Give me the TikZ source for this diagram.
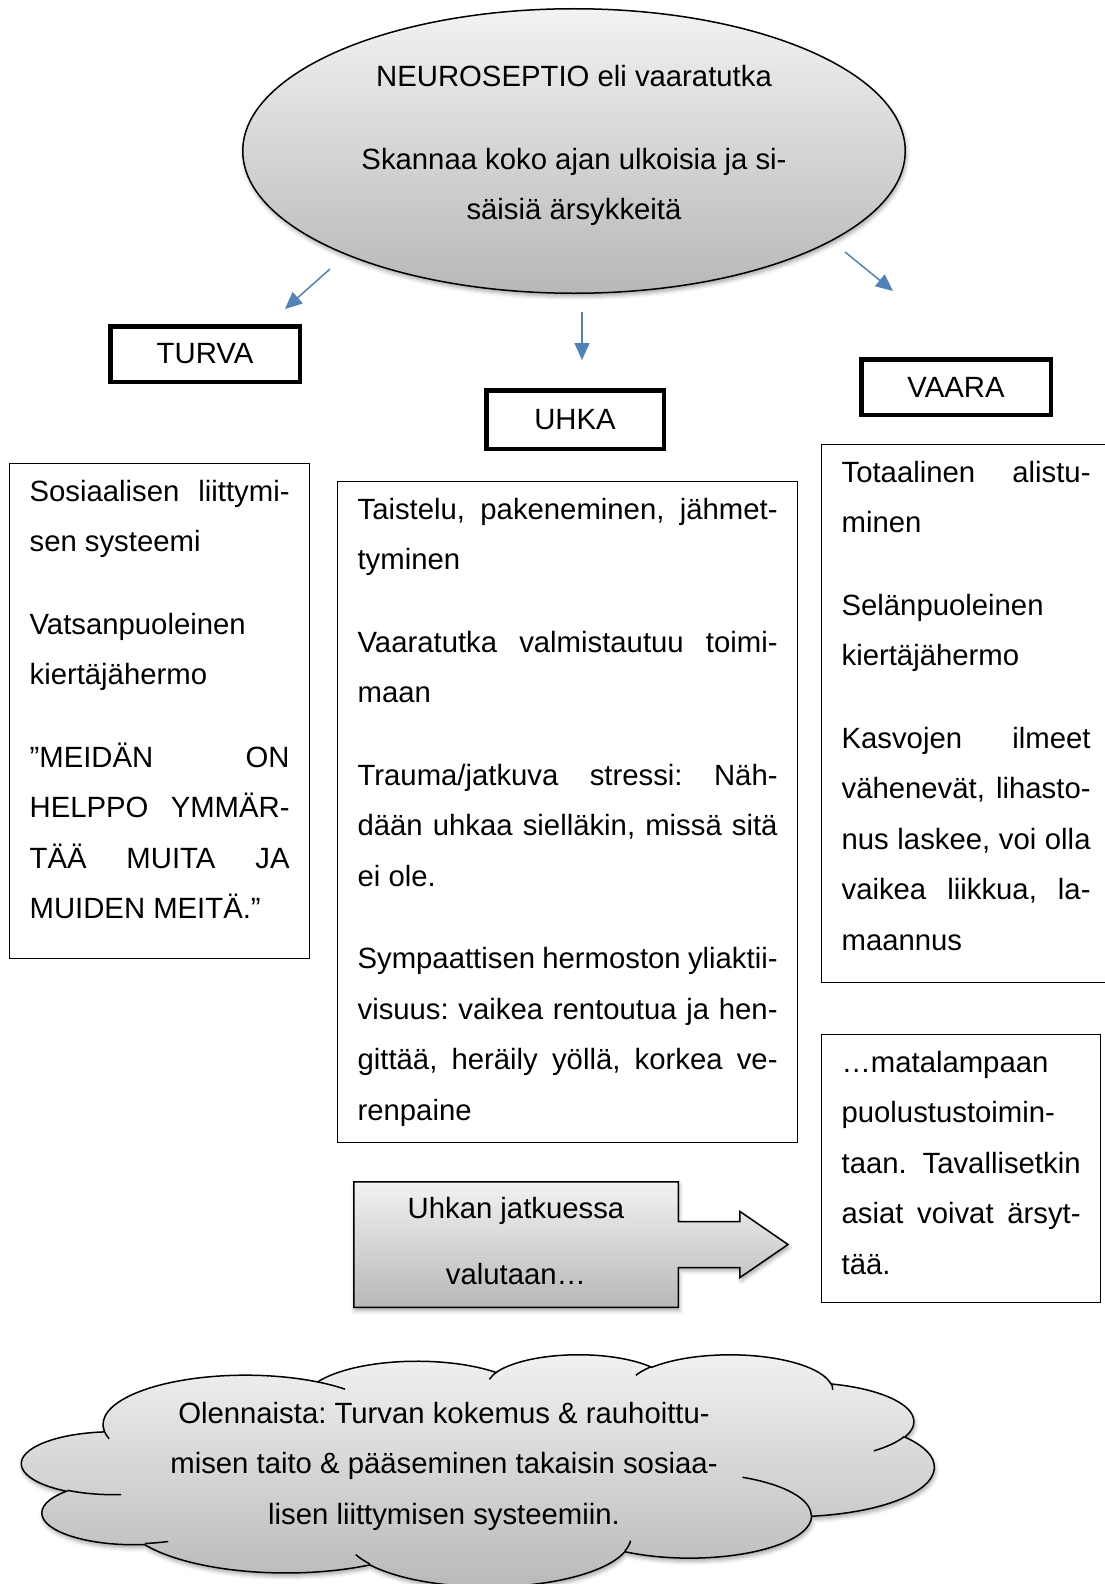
\documentclass[tikz,border=0pt]{standalone}
\usepackage{fontspec}
\setmainfont{Liberation Sans}
\usetikzlibrary{arrows.meta,shapes.geometric,shapes.arrows,shadows.blur}

\definecolor{nuolensini}{HTML}{4F81BD}
\frenchspacing
\newcommand{\perusfontti}{\fontsize{14.65pt}{25.25pt}\selectfont}
% tekstilaatikon sisalto: korkeus, leveys, teksti
\newcommand{\laatikkoteksti}[3]{\parbox[t][#1][t]{#2}{\setlength{\parskip}{16pt}\tolerance=9999\hbadness=10000\rule{0pt}{18.75pt}#3}}
% pilven kaari: x-sade, y-sade, alkukulma, kaaren kulma
\newcommand{\pilvikaari}[4]{arc[x radius=#1, y radius=#2, start angle={atan2((#1)*sin(#3),(#2)*cos(#3))}, delta angle={mod(atan2((#1)*sin((#3)+(#4)),(#2)*cos((#3)+(#4)))-atan2((#1)*sin(#3),(#2)*cos(#3))+720,360)}]}

\begin{document}
\begin{tikzpicture}[x=0.5pt, y=-0.5pt,
    otsikko/.style={draw, line width=2.25pt, inner sep=0pt, minimum width=94.75pt, minimum height=27.75pt, font=\perusfontti},
    laatikko/.style={draw, line width=0.6pt, anchor=north west, inner xsep=10pt, inner ysep=0pt, font=\perusfontti},
    nuoli/.style={draw=nuolensini, line width=0.75pt, -{Triangle[length=8.5pt, width=7.5pt]}},
    varjo/.style={blur shadow={shadow xshift=0.6pt, shadow yshift=-1.6pt, shadow blur radius=2pt, shadow opacity=35}},
    harmaa/.style={top color=black!5, bottom color=black!28}]
\useasboundingbox (0,0) rectangle (1104,1584);

\node[ellipse, draw, line width=0.75pt, harmaa, varjo, minimum width=331.25pt, minimum height=142.25pt, align=center, font=\perusfontti] (neuro) at (574,151)
    {\rule{0pt}{11pt}NEUROSEPTIO eli vaaratutka\\[16pt]Skannaa koko ajan ulkoisia ja si-\\säisiä ärsykkeitä\rule[-8.75pt]{0pt}{8.75pt}};

\node[otsikko] (turva) at (205,354) {TURVA};
\node[otsikko, minimum width=88.75pt, minimum height=29.25pt] (uhka) at (575,419.5) {UHKA};
\node[otsikko] (vaara) at (956,387) {VAARA};

% nuolet
\coordinate (turvaA) at (330,269);
\coordinate (turvaB) at (285,309);
\coordinate (uhkaA) at (582,312);
\coordinate (uhkaB) at (582,360);
\coordinate (vaaraA) at (845,252);
\coordinate (vaaraB) at (893,291);
\draw[nuoli] (turvaA) -- (turvaB);
\draw[nuoli] (uhkaA) -- (uhkaB);
\draw[nuoli] (vaaraA) -- (vaaraB);

\node[laatikko] (turvateksti) at (9,463) {\laatikkoteksti{247.5pt}{130pt}{Sosiaalisen liittymi-\linebreak sen systeemi\par Vatsanpuoleinen\newline kiertäjähermo\par ”MEIDÄN ON\linebreak HELPPO YMMÄR-\linebreak TÄÄ MUITA JA\linebreak MUIDEN MEITÄ.”}};

\node[laatikko] (uhkateksti) at (337,481) {\laatikkoteksti{330.5pt}{210pt}{Taistelu, pakeneminen, jähmet-\linebreak tyminen\par Vaaratutka valmistautuu toimi-\linebreak maan\par Trauma/jatkuva stressi: Näh-\linebreak dään uhkaa sielläkin, missä sitä\linebreak ei ole.\par Sympaattisen hermoston yliaktii-\linebreak visuus: vaikea rentoutua ja hen-\linebreak gittää, heräily yöllä, korkea ve-\linebreak renpaine}};

\node[laatikko] (vaarateksti) at (821,444) {\laatikkoteksti{269pt}{124.5pt}{Totaalinen alistu-\linebreak minen\par Selänpuoleinen\newline kiertäjähermo\par Kasvojen ilmeet\linebreak vähenevät, lihasto-\linebreak nus laskee, voi olla\linebreak vaikea liikkua, la-\linebreak maannus}};

\node[laatikko] (matala) at (821,1034) {\laatikkoteksti{134pt}{119.5pt}{…matalampaan\newline puolustustoimin-\newline taan. Tavallisetkin\linebreak asiat voivat ärsyt-\linebreak tää.}};

\node[arrow box, draw, line width=0.75pt, harmaa, varjo, inner sep=0pt, minimum width=162.25pt, minimum height=62.75pt,
    arrow box arrows={east:54.5pt from border}, arrow box shaft width=23pt, arrow box head extend=5pt, arrow box tip angle=69,
    align=center, font=\perusfontti] (jatkuessa) at (516,1244.5)
    {Uhkan jatkuessa\\[7.75pt]valutaan…\rule[-3.7pt]{0pt}{0pt}};

% pilvi
\begin{scope}[shift={(22,1354)}, x=1.05556pt, y=-0.268519pt]
\path[draw, line width=0.75pt, harmaa, varjo] (39,143.7)
    \pilvikaari{67.53}{91.90}{-190.4875}{123.7805}
    \pilvikaari{53.33}{72.67}{-144.1024}{89.9452}
    \pilvikaari{43.65}{59.45}{-145.8079}{99.7230}
    \pilvikaari{48.57}{65.95}{-130.9861}{117.2417}
    \pilvikaari{53.33}{72.73}{-78.7089}{109.0269}
    \pilvikaari{67.75}{92.20}{-46.2673}{130.2690}
    \pilvikaari{57.85}{78.67}{0.6250}{114.0333}
    \pilvikaari{67.52}{92.15}{22.4516}{115.1726}
    \pilvikaari{77.20}{105.43}{66.2426}{75.7110}
    \pilvikaari{43.60}{59.18}{-274.9421}{146.7356}
    \pilvikaari{43.45}{59.45}{-246.8285}{152.5189} -- cycle;
\draw[line width=0.75pt]
    (46.93,261.77) \pilvikaari{43.45}{59.45}{86.742}{26.4295}
    (69.28,348.99) \pilvikaari{43.60}{59.18}{73.6105}{11.4475}
    (164.78,390.90) \pilvikaari{67.52}{92.15}{137.6242}{14.0811}
    (288.27,347.51) \pilvikaari{67.52}{92.15}{6.4533}{15.9984}
    (341.29,229.54) \pilvikaari{57.85}{78.67}{-70.2924}{70.9174}
    (417.98,153.54) \pilvikaari{53.33}{72.73}{30.3180}{27.7515}
    (383.24,54.26) \pilvikaari{48.57}{65.95}{-13.7443}{14.8589}
    (290.78,39.52) \pilvikaari{48.57}{65.95}{-149.1815}{18.1954}
    (221.41,47.20) \pilvikaari{43.65}{59.45}{-163.4943}{17.6864}
    (140.00,51.92) \pilvikaari{67.53}{91.90}{-66.7070}{12.3194}
    (41.27,157.89) \pilvikaari{67.53}{91.90}{157.6544}{11.8582};
\end{scope}
\node[align=center, font=\perusfontti] (olennaista) at (444,1466)
    {Olennaista: Turvan kokemus \& rauhoittu-\\misen taito \& pääseminen takaisin sosiaa-\\lisen liittymisen systeemiin.};
\end{tikzpicture}
\end{document}
